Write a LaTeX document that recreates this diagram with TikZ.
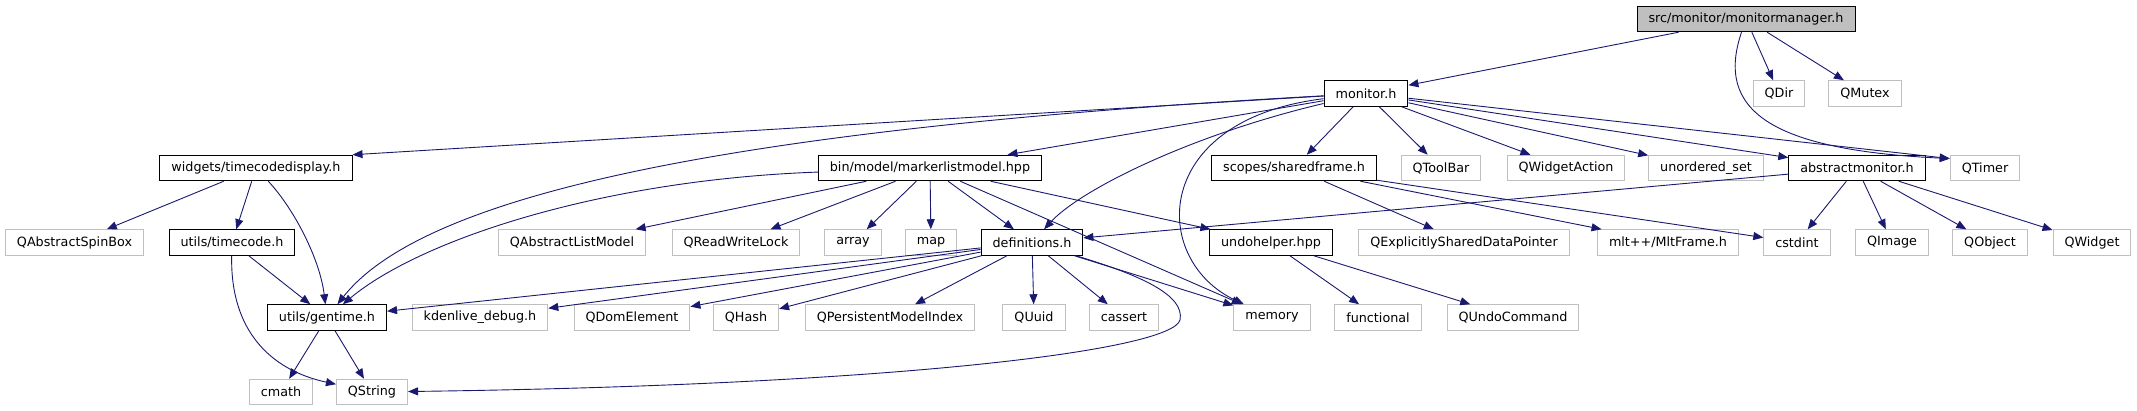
\documentclass[tikz,border=0pt]{standalone}
\usepackage{fontspec}
\setmainfont{DejaVu Sans}
\usepackage{xcolor}
\usepackage{tikz}
\usetikzlibrary{arrows.meta}
\definecolor{edgeblue}{HTML}{191970}
\definecolor{boxgray}{HTML}{BFBFBF}
\tikzset{
  box/.style={draw, rectangle, fill=white, font=\fontsize{12.75}{15}\selectfont,
              inner xsep=11.5pt, inner ysep=0pt, minimum height=25.5pt,
              line width=1pt},
  doc/.style={box, draw=black},
  ext/.style={box, draw=boxgray},
  root/.style={box, draw=black, fill=boxgray},
  flow/.style={-{Triangle[length=10pt, width=8pt]}, draw=edgeblue,
               fill=none, line width=0.9pt},
}

\begin{document}
\begin{tikzpicture}[x=1pt, y=-1pt]
  \useasboundingbox (0,0) rectangle (2137,411);
  % top
  \node[root] (mm) at (1746,19) {src/monitor/monitormanager.h};
  % row 1
  \node[doc] (mon) at (1366,93.5) {monitor.h};
  \node[ext] (qdir) at (1779,93.5) {QDir};
  \node[ext] (qmutex) at (1865,93.5) {QMutex};
  % row 2
  \node[doc] (tcd) at (256,168) {widgets/timecodedisplay.h};
  \node[doc] (mlm) at (930,168) {bin/model/markerlistmodel.hpp};
  \node[doc] (sf) at (1294,168) {scopes/sharedframe.h};
  \node[ext] (qtoolbar) at (1441,168) {QToolBar};
  \node[ext] (qwidgetaction) at (1566,168) {QWidgetAction};
  \node[ext] (unorderedset) at (1706,168) {unordered\_set};
  \node[doc] (am) at (1857,168) {abstractmonitor.h};
  \node[ext] (qtimer) at (1985,168) {QTimer};
  % row 3
  \node[ext] (qspinbox) at (74.5,242.5) {QAbstractSpinBox};
  \node[doc] (tc) at (232,242.5) {utils/timecode.h};
  \node[ext] (qlistmodel) at (572,242.5) {QAbstractListModel};
  \node[ext] (qrwlock) at (736,242.5) {QReadWriteLock};
  \node[ext] (array) at (853,242.5) {array};
  \node[ext] (map) at (931,242.5) {map};
  \node[doc] (def) at (1032,242.5) {definitions.h};
  \node[doc] (uh) at (1271,242.5) {undohelper.hpp};
  \node[ext] (qexplicit) at (1464,242.5) {QExplicitlySharedDataPointer};
  \node[ext] (mltframe) at (1668,242.5) {mlt++/MltFrame.h};
  \node[ext] (cstdint) at (1797,242.5) {cstdint};
  \node[ext] (qimage) at (1892,242.5) {QImage};
  \node[ext] (qobject) at (1990,242.5) {QObject};
  \node[ext] (qwidget) at (2092,242.5) {QWidget};
  % row 4
  \node[doc] (gt) at (327,317.5) {utils/gentime.h};
  \node[ext] (kdebug) at (480,317.5) {kdenlive\_debug.h};
  \node[ext] (qdomelement) at (632,317.5) {QDomElement};
  \node[ext] (qhash) at (746,317.5) {QHash};
  \node[ext] (qpersistent) at (890,317.5) {QPersistentModelIndex};
  \node[ext] (quuid) at (1034,317.5) {QUuid};
  \node[ext] (cassert) at (1124,317.5) {cassert};
  \node[ext] (memory) at (1272,317.5) {memory};
  \node[ext] (functional) at (1378,317.5) {functional};
  \node[ext] (qundo) at (1513,317.5) {QUndoCommand};
  % row 5
  \node[ext] (cmath) at (281,392) {cmath};
  \node[ext] (qstring) at (372,392) {QString};

  % monitormanager.h
  \draw[flow] (mm) -- (mon);
  \draw[flow] (mm) -- (qdir);
  \draw[flow] (mm) -- (qmutex);
  \draw[flow] (mm) .. controls (1715,110) and (1770,150) .. (qtimer.165);
  % monitor.h
  \draw[flow] (mon) -- (tcd.north east);
  \draw[flow] (mon) .. controls (700,130) and (420,200) .. (gt);
  \draw[flow] (mon) -- (mlm);
  \draw[flow] (mon) .. controls (1190,135) and (1080,190) .. (def);
  \draw[flow] (mon) .. controls (1150,120) and (1150,260) .. (memory);
  \draw[flow] (mon) -- (sf);
  \draw[flow] (mon) -- (qtoolbar);
  \draw[flow] (mon) -- (qwidgetaction);
  \draw[flow] (mon) -- (unorderedset);
  \draw[flow] (mon) -- (am);
  \draw[flow] (mon) -- (qtimer.165);
  % timecodedisplay.h
  \draw[flow] (tcd) -- (qspinbox);
  \draw[flow] (tcd) -- (tc);
  \draw[flow] (tcd) .. controls (295,210) and (320,260) .. (gt);
  % timecode.h
  \draw[flow] (tc) -- (gt);
  \draw[flow] (tc) .. controls (230,330) and (270,370) .. (qstring);
  % gentime.h
  \draw[flow] (gt) -- (cmath);
  \draw[flow] (gt) -- (qstring);
  % markerlistmodel.hpp
  \draw[flow] (mlm) .. controls (600,180) and (420,240) .. (gt);
  \draw[flow] (mlm) -- (qlistmodel);
  \draw[flow] (mlm) -- (qrwlock);
  \draw[flow] (mlm) -- (array);
  \draw[flow] (mlm) -- (map);
  \draw[flow] (mlm) -- (def);
  \draw[flow] (mlm) -- (memory);
  \draw[flow] (mlm) -- (uh);
  % definitions.h
  \draw[flow] (def) -- (gt);
  \draw[flow] (def) -- (kdebug);
  \draw[flow] (def) -- (qdomelement);
  \draw[flow] (def) -- (qhash);
  \draw[flow] (def) -- (qpersistent);
  \draw[flow] (def) -- (quuid);
  \draw[flow] (def) -- (cassert);
  \draw[flow] (def) -- (memory);
  \draw[flow] (def) .. controls (1140,275) and (1185,295) .. (1180,320)
    .. controls (1172,350) and (900,385) .. (qstring);
  % sharedframe.h
  \draw[flow] (sf) -- (qexplicit);
  \draw[flow] (sf) -- (mltframe);
  \draw[flow] (sf) -- (cstdint);
  % abstractmonitor.h
  \draw[flow] (am) -- (def);
  \draw[flow] (am) -- (cstdint);
  \draw[flow] (am) -- (qimage);
  \draw[flow] (am) -- (qobject);
  \draw[flow] (am) -- (qwidget);
  % undohelper.hpp
  \draw[flow] (uh) -- (functional);
  \draw[flow] (uh) -- (qundo);
\end{tikzpicture}
\end{document}
